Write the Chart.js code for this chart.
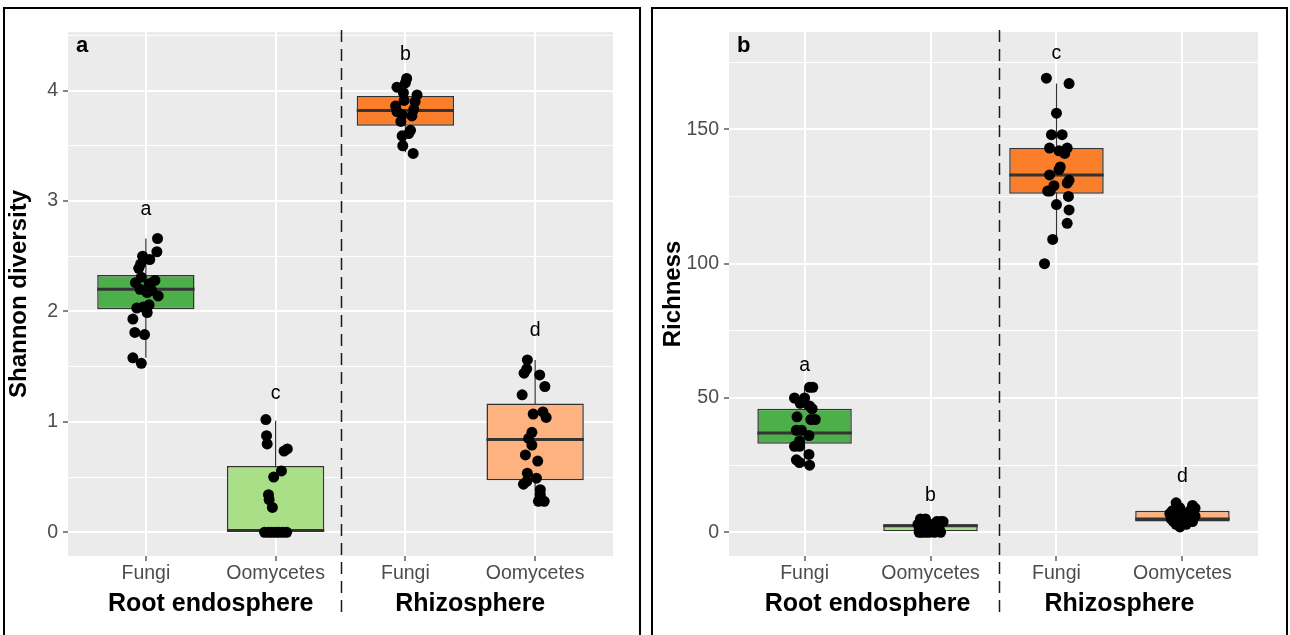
<!DOCTYPE html>
<html>
<head>
<meta charset="utf-8">
<script src="https://cdn.jsdelivr.net/npm/chart.js@4.4.1/dist/chart.umd.min.js"></script>
<style>
  body { margin: 0; background: #fff; width: 1290px; height: 635px; overflow: hidden; position: relative; }
  .panel { position: absolute; top: 0; width: 645px; height: 635px; }
  .frame { position: absolute; border: 2px solid #000; border-bottom: none; box-sizing: border-box; pointer-events: none; }
</style>
</head>
<body>
<div class="panel" style="left:0"><canvas id="shannon" width="645" height="635"></canvas></div>
<div class="panel" style="left:645px"><canvas id="richness" width="645" height="635"></canvas></div>
<div class="frame" style="left:3px;top:7px;width:638px;height:640px"></div>
<div class="frame" style="left:651px;top:7px;width:637px;height:640px"></div>

<script>
const categories = ['Fungi', 'Oomycetes', 'Fungi', 'Oomycetes'];
const compartments = ['Root endosphere', 'Rhizosphere'];
const boxFill = ['#4DAF4A', '#A9DF86', '#FB7F2A', '#FDB27F'];

// Shannon diversity
const shannonQ1 = [2.02, 0.0, 3.68, 0.47];
const shannonMedian = [2.2, 0.015, 3.82, 0.84];
const shannonQ3 = [2.33, 0.6, 3.95, 1.165];
const shannonLow = [1.58, 0.0, 3.44, 0.27];
const shannonHigh = [2.66, 1.01, 4.12, 1.56];
const shannonLetters = ['a', 'c', 'b', 'd'];
const shannonLetterY = [2.87, 1.21, 4.28, 1.78];
const shannonTicks = [0, 1, 2, 3, 4];
const shannonRange = [-0.215, 4.53];
const shannonSamples = [
  [2.66, 2.54, 2.5, 2.47, 2.43, 2.39, 2.31, 2.26, 2.28, 2.25, 2.2, 2.19, 2.14, 2.17, 2.03, 2.04, 2.06, 1.99, 1.93, 1.81, 1.79, 1.58, 1.53],
  [1.02, 0.875, 0.8, 0.735, 0.755, 0.555, 0.5, 0.34, 0.295, 0.225, 0, 0, 0, 0, 0, 0, 0],
  [4.11, 4.07, 4.03, 3.98, 3.96, 3.9, 3.91, 3.86, 3.81, 3.83, 3.77, 3.78, 3.72, 3.64, 3.61, 3.59, 3.5, 3.43],
  [1.56, 1.48, 1.44, 1.425, 1.32, 1.245, 1.07, 1.09, 1.04, 0.905, 0.85, 0.79, 0.7, 0.645, 0.535, 0.49, 0.435, 0.46, 0.385, 0.34, 0.28, 0.28]
];
const shannonJitter = [
  [0.09, 0.085, -0.025, 0.03, -0.04, -0.055, -0.035, -0.08, 0.07, 0.025, -0.045, 0.045, 0.095, 0.01, -0.07, -0.02, 0.025, 0.01, -0.1, -0.085, -0.01, -0.1, -0.035],
  [-0.075, -0.07, -0.065, 0.065, 0.09, 0.045, -0.015, -0.055, -0.05, -0.025, -0.085, -0.055, -0.03, 0, 0.025, 0.055, 0.085],
  [0.01, 0, -0.065, -0.015, 0.09, 0.075, -0.01, -0.075, -0.065, 0.065, 0.05, -0.025, -0.035, 0.04, 0.025, -0.025, -0.02, 0.06],
  [-0.06, -0.065, -0.085, 0.035, 0.075, -0.1, -0.015, 0.06, 0.085, -0.025, -0.05, -0.025, -0.075, 0.02, -0.06, 0.01, -0.09, -0.065, 0.04, 0.04, 0.025, 0.07]
];

// Richness
const richnessQ1 = [33, 0, 126, 4];
const richnessMedian = [37, 2.5, 133, 5];
const richnessQ3 = [46, 3, 143, 8];
const richnessLow = [25, 0, 109, 2];
const richnessHigh = [54, 5, 167, 11];
const richnessLetters = ['a', 'b', 'c', 'd'];
const richnessLetterY = [60, 11.7, 176, 18.6];
const richnessTicks = [0, 50, 100, 150];
const richnessRange = [-8.8, 186.2];
const richnessSamples = [
  [54, 54, 50, 50, 48, 47, 46, 43, 42, 42, 38, 38, 36, 34, 32, 32, 29, 27, 26, 25],
  [5, 5, 4, 4, 4, 3, 3, 3, 3, 2, 2, 1, 1, 1, 0, 0, 0, 0, 0, 0],
  [169, 167, 156, 148, 148, 143, 143, 142, 141, 136, 135, 133, 131, 130, 129, 127, 127, 125, 122, 120, 115, 109, 100],
  [11, 10, 9, 9, 8, 8, 7, 7, 7, 6, 6, 6, 5, 5, 5, 4, 4, 4, 3, 3, 2]
];
const richnessJitter = [
  [0.04, 0.065, -0.08, 0, -0.035, 0.04, 0.06, -0.06, 0.05, 0.085, -0.065, -0.025, 0.035, -0.04, -0.08, -0.04, 0.035, -0.065, -0.04, 0.04],
  [-0.08, -0.04, 0.05, 0.08, 0.1, -0.1, 0.02, 0.06, -0.06, -0.02, 0.03, -0.09, -0.05, 0.07, -0.09, -0.07, -0.04, -0.01, 0.03, 0.08],
  [-0.08, 0.1, 0, -0.04, 0.045, -0.055, 0.085, 0.02, 0.065, 0.03, 0.02, -0.055, 0.1, 0.085, -0.02, -0.05, -0.07, 0.095, 0, 0.1, 0.085, -0.03, -0.095],
  [-0.05, 0.08, -0.02, 0.1, -0.08, 0.06, -0.1, 0.02, 0.09, -0.06, 0.04, 0.1, -0.09, -0.03, 0.05, -0.07, 0.01, 0.08, -0.05, 0.03, -0.02]
];

const FONT = "'Liberation Sans', Arial, Helvetica, sans-serif";
Chart.defaults.font.family = FONT;

// grey panel, compartment divider, labels
const panelDecor = {
  id: 'panelDecor',
  beforeDraw(chart) {
    const { ctx, chartArea: a } = chart;
    ctx.save();
    ctx.fillStyle = '#EBEBEB';
    ctx.fillRect(a.left, a.top, a.right - a.left, a.bottom - a.top);
    ctx.restore();
  },
  afterDatasetsDraw(chart, args, opts) {
    const { ctx, scales: { x, y } } = chart;
    ctx.save();
    ctx.font = `19.5px ${FONT}`;
    ctx.fillStyle = '#000';
    ctx.textAlign = 'center';
    ctx.textBaseline = 'alphabetic';
    opts.letters.forEach((t, i) => {
      ctx.fillText(t, x.getPixelForValue(i + 1), y.getPixelForValue(opts.letterY[i]));
    });
    ctx.restore();
  },
  afterDraw(chart, args, opts) {
    const { ctx, chartArea: a, scales: { x } } = chart;
    ctx.save();
    const dx = Math.round(x.getPixelForValue(opts.divider)) + 0.5;
    ctx.strokeStyle = '#1a1a1a';
    ctx.lineWidth = 1.5;
    ctx.setLineDash([12, 7]);
    ctx.beginPath();
    ctx.moveTo(dx, a.top - 2);
    ctx.lineTo(dx, 617);
    ctx.stroke();

    ctx.fillStyle = '#000';
    ctx.textAlign = 'center';
    ctx.textBaseline = 'alphabetic';
    ctx.font = `bold 25px ${FONT}`;
    compartments.forEach((c, k) => {
      ctx.fillText(c, x.getPixelForValue(1.5 + 2 * k), 611);
    });

    ctx.textAlign = 'left';
    ctx.font = `bold 22px ${FONT}`;
    ctx.fillText(opts.tag, a.left + 8, 52);
    ctx.restore();
  }
};

function makeChart(canvasId, cfg) {
  const half = 0.375; // half of the box width, in category units
  const boxes = [];
  const medians = [];
  const whiskers = [];
  const points = [];

  categories.forEach((c, i) => {
    const cx = i + 1;
    boxes.push({ x: cx, y: [cfg.q1[i], cfg.q3[i]] });
    medians.push({ x: cx - half, y: cfg.median[i] }, { x: cx + half, y: cfg.median[i] }, { x: cx + half, y: null });
    whiskers.push({ x: cx, y: cfg.low[i] }, { x: cx, y: cfg.high[i] }, { x: cx, y: null });
    cfg.samples[i].forEach((v, j) => points.push({ x: cx + cfg.jitter[i][j], y: v }));
  });

  const step = cfg.ticks[1] - cfg.ticks[0];
  const yTicks = [];
  cfg.ticks.forEach(v => yTicks.push(v, v + step / 2));
  const isMajor = v => cfg.ticks.includes(v);

  return new Chart(canvasId, {
    type: 'scatter',
    data: {
      datasets: [
        { type: 'scatter', data: points, backgroundColor: '#000', borderWidth: 0, pointRadius: 5.5, order: 0 },
        { type: 'line', data: medians, borderColor: '#333', borderWidth: 3, pointRadius: 0, borderCapStyle: 'butt', order: 1 },
        {
          type: 'bar', data: boxes, backgroundColor: boxFill, borderColor: '#333', borderWidth: 1.5,
          borderSkipped: false, barPercentage: 0.75, categoryPercentage: 1, grouped: false, order: 2
        },
        { type: 'line', data: whiskers, borderColor: '#333', borderWidth: 1.2, pointRadius: 0, order: 3 }
      ]
    },
    options: {
      responsive: false,
      animation: false,
      devicePixelRatio: 1,
      layout: { padding: { top: 32, right: 32, left: 0, bottom: 0 } },
      scales: {
        x: {
          type: 'linear', min: 0.4, max: 4.6, offset: false, bounds: 'data',
          afterBuildTicks: s => { s.ticks = categories.map((c, i) => ({ value: i + 1 })); },
          afterFit: s => { s.height = 79; },
          ticks: {
            callback: v => categories[Math.round(v) - 1],
            color: '#4D4D4D', font: { size: 19.5 }, padding: 1, maxRotation: 0, autoSkip: false
          },
          grid: { color: '#fff', lineWidth: 2, tickColor: '#333', tickLength: 5, tickWidth: 1.2, offset: false },
          border: { display: false }
        },
        y: {
          type: 'linear', min: cfg.range[0], max: cfg.range[1], bounds: 'data',
          afterBuildTicks: s => { s.ticks = yTicks.map(v => ({ value: v })); },
          afterFit: s => { s.width = cfg.axisWidth; },
          ticks: {
            callback: v => (isMajor(v) ? String(v) : ''),
            color: '#4D4D4D', font: { size: 19.5 }, padding: 5, autoSkip: false
          },
          grid: {
            color: '#fff',
            lineWidth: ctx => (ctx.tick && isMajor(ctx.tick.value) ? 2 : 1),
            tickColor: ctx => (ctx.tick && isMajor(ctx.tick.value) ? '#333' : 'rgba(0,0,0,0)'),
            tickLength: 5, tickWidth: 1.2
          },
          border: { display: false },
          title: {
            display: true, text: cfg.title, color: '#000',
            font: { size: 24, weight: 'bold' }, padding: { top: cfg.titlePad, bottom: 0 }
          }
        }
      },
      plugins: {
        legend: { display: false },
        tooltip: { enabled: false },
        panelDecor: { tag: cfg.tag, letters: cfg.letters, letterY: cfg.letterY, divider: cfg.divider }
      }
    },
    plugins: [panelDecor]
  });
}

makeChart('shannon', {
  q1: shannonQ1, median: shannonMedian, q3: shannonQ3, low: shannonLow, high: shannonHigh,
  samples: shannonSamples, jitter: shannonJitter, letters: shannonLetters, letterY: shannonLetterY,
  ticks: shannonTicks, range: shannonRange, title: 'Shannon diversity', tag: 'a',
  axisWidth: 68, titlePad: 5, divider: 2.5
});

makeChart('richness', {
  q1: richnessQ1, median: richnessMedian, q3: richnessQ3, low: richnessLow, high: richnessHigh,
  samples: richnessSamples, jitter: richnessJitter, letters: richnessLetters, letterY: richnessLetterY,
  ticks: richnessTicks, range: richnessRange, title: 'Richness', tag: 'b',
  axisWidth: 84, titlePad: 14, divider: 2.54
});
</script>
</body>
</html>
